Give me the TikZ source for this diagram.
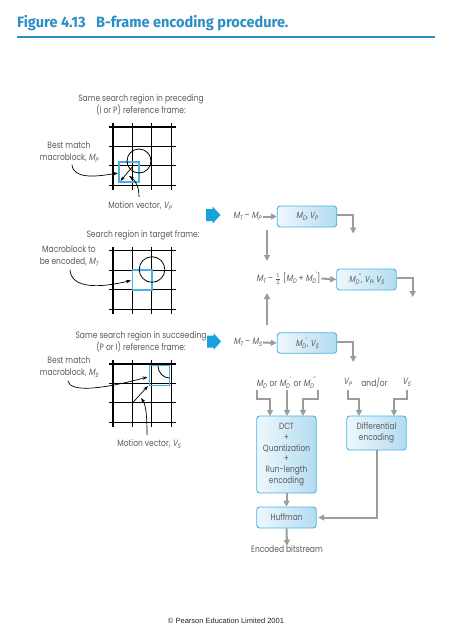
\documentclass[tikz,border=0pt]{standalone}
\usepackage{fontspec}
\setmainfont{Poppins}[FakeStretch=0.82]
\newfontfamily\itf{Poppins}[FakeStretch=0.82,FakeSlant=0.2]
\newfontfamily\titlefont{Fira Sans}[FakeStretch=0.97]
\newfontfamily\cpfont{Liberation Sans}
\usetikzlibrary{arrows.meta,shadings}
\definecolor{txtgray}{HTML}{5A5A5A}
\definecolor{titleblue}{HTML}{2A8FC4}
\definecolor{boxcyan}{HTML}{4AB2E0}
\definecolor{arrowgray}{HTML}{9C9C9C}
\definecolor{fillL}{HTML}{EEF8FD}
\definecolor{fillR}{HTML}{B3DCF2}
\definecolor{blockblue}{HTML}{1AA0DD}
\newcommand\mi[1]{{\itf #1}}
\newcommand\sub[1]{\raisebox{-0.4ex}{\fontsize{6.5}{6.5}\selectfont\itf #1}}
\newcommand\sps[1]{\raisebox{0.9ex}{\fontsize{6.5}{6.5}\selectfont #1}}
\newcommand\mygrid[1]{%
  \foreach \i in {0,1,2,3}{%
    \draw[gridline] (109,{#1+\i*19.45}) -- (175.5,{#1+\i*19.45});
    \draw[gridline] ({113+\i*19.45},{#1-4}) -- ({113+\i*19.45},{#1+3*19.45+4.5});
  }}
\tikzset{
  lbl/.style={text=txtgray, font=\fontsize{9.2}{12}\selectfont, inner sep=0pt, align=center},
  procbox/.style={draw=boxcyan, line width=0.9pt, rounded corners=3pt, left color=fillL, right color=fillR,
    text=txtgray, font=\fontsize{9}{10.8}\selectfont, inner sep=0pt, align=center, minimum width=59.5pt},
  flow/.style={draw=arrowgray, line width=2pt, -{Triangle[width=6pt,length=6pt]}},
  pointer/.style={draw=black, line width=0.7pt, -{Stealth[length=5pt,width=3.5pt]}},
  gridline/.style={draw=black, line width=1.1pt},
  mblock/.style={draw=boxcyan, line width=1.8pt},
  thinline/.style={draw=black, line width=0.8pt},
  blockarrow/.style={fill=blockblue},
}
\begin{document}
\begin{tikzpicture}[x=1pt,y=-1pt]
\useasboundingbox (0,0) rectangle (452,640);
% title
\node[anchor=west, inner sep=0pt, text=titleblue, font=\titlefont\bfseries\fontsize{15}{15}\selectfont] (title) at (17,23) {Figure 4.13\hspace{0.7em}B-frame encoding procedure.};
\coordinate (ruleL) at (17,37);
\coordinate (ruleR) at (435,37);
\draw[titleblue, line width=1.6pt] (ruleL) -- (ruleR);

% ---------- preceding frame ----------
\node[lbl] (prec) at (141,105) {Same search region in preceding\\(I or P) reference frame:};
\mygrid{127}
\draw[mblock] (119,162) rectangle (139,182);
\draw[thinline] (139,161) circle (12);
\coordinate (vpA) at (133,166);
\coordinate (vpB) at (120.5,181);
\draw[pointer] (vpA) -- (vpB);
\node[lbl] (bmP) at (69,152) {Best match\\macroblock, \mi{M}\sub{P}};
\coordinate (bmPend) at (118,173);
\draw[pointer] ([xshift=3pt,yshift=-2pt]bmP.south) .. controls (73,179) and (95,177) .. (bmPend);
\node[lbl] (mvP) at (140,206) {Motion vector, \mi{V}\sub{P}};
\coordinate (mvPend) at (129,176);
\draw[pointer] (139,197) .. controls (139,186) and (135,180) .. (mvPend);

% ---------- target frame ----------
\node[lbl] (targ) at (143,235) {Search region in target frame:};
\mygrid{250.7}
\draw[mblock] (132.5,270.2) rectangle (151.9,289.6);
\draw[thinline] (152,269.5) circle (12.8);
\node[lbl] (mbT) at (69,256) {Macroblock to\\be encoded, \mi{M}\sub{T}};
\coordinate (mbTend) at (131,280.5);
\draw[pointer] ([xshift=1pt,yshift=-3pt]mbT.south) .. controls (71,289) and (100,288) .. (mbTend);

% ---------- succeeding frame ----------
\node[lbl] (succ) at (141,341.5) {Same search region in succeeding\\(P or I) reference frame:};
\mygrid{364}
\draw[mblock] (149.5,365.5) rectangle (169.5,385.5);
\draw[thinline] (158,366) .. controls (158,372.6) and (163.4,378) .. (169.5,378);
\coordinate (vsA) at (132.5,402.9);
\coordinate (vsB) at (148,386);
\draw[pointer] (vsA) -- (vsB);
\node[lbl] (bmS) at (69,367.5) {Best match\\macroblock, \mi{M}\sub{S}};
\coordinate (bmSend) at (147.5,377);
\draw[pointer] ([xshift=-1pt,yshift=-3pt]bmS.south) .. controls (70,392) and (100,390) .. (bmSend);
\node[lbl] (mvS) at (149,444) {Motion vector, \mi{V}\sub{S}};
\coordinate (mvSend) at (141,398);
\draw[pointer] (147,435) .. controls (147,416) and (146,405) .. (mvSend);

% ---------- block arrows ----------
\fill[blockarrow] (206,209) -- (212.7,209) -- (212.7,206.5) -- (220.5,215) -- (212.7,223.5) -- (212.7,221) -- (206,221) -- cycle;
\fill[blockarrow] (207,335.5) -- (213.5,335.5) -- (213.5,333) -- (221,341.5) -- (213.5,350) -- (213.5,347.5) -- (207,347.5) -- cycle;

% ---------- right column ----------
\node[lbl, anchor=east] (mtmp) at (261.5,216.5) {\mi{M}\sub{T} – \mi{M}\sub{P}};
\node[procbox, minimum height=21pt] (b1) at (307,216.5) {\mi{M}\sub{D}, \mi{V}\sub{P}};
\draw[flow] ([xshift=1pt]mtmp.east) -- (b1.west);
\draw[flow] ([yshift=1.5pt]b1.east) -- ++(16,0) -- ++(0,18.5);

\node[lbl, anchor=east] (e2) at (320.5,278.5) {\mi{M}\sub{T} – $\frac{1}{2}$ [\mi{M}\sub{D} + \mi{M}\sub{D}\sps{'}]};
\node[procbox, minimum height=21pt] (b2) at (366.5,279.5) {\mi{M}\sub{D}\sps{''}, \mi{V}\sub{P}, \mi{V}\sub{S}};
\draw[flow] ([xshift=1pt]e2.east) -- (b2.west);
\draw[flow] ([yshift=1.5pt]b2.east) -- ++(16,0) -- ++(0,19);

\coordinate (v1a) at (267,230);
\coordinate (v1b) at (267,261);
\draw[flow] (v1a) -- (v1b);
\coordinate (v2a) at (267,325);
\coordinate (v2b) at (267,293);
\draw[flow] (v2a) -- (v2b);

\node[lbl, anchor=east] (mtms) at (262,342.5) {\mi{M}\sub{T} – \mi{M}\sub{S}};
\node[procbox, minimum height=20.5pt] (b3) at (307,343) {\mi{M}\sub{D}\sps{'}, \mi{V}\sub{S}};
\draw[flow] ([xshift=1pt]mtms.east) -- (b3.west);
\draw[flow] ([yshift=1pt]b3.east) -- ++(16,0) -- ++(0,20);

% row of inputs
\node[lbl] (mdrow) at (286,382.5) {\mi{M}\sub{D}\hspace{1pt} or \mi{M}\sub{D}\sps{'}\hspace{1pt} or \mi{M}\sub{D}\sps{''}};
\node[lbl] (vprow) at (347.5,382.5) {\mi{V}\sub{P}};
\node[lbl] (andor) at (374.5,382.5) {and/or};
\node[lbl] (vsrow) at (406.5,382.5) {\mi{V}\sub{S}};

\node[procbox, minimum height=77pt] (dct) at (286.5,454.5) {DCT\\+\\Quantization\\+\\Run-length\\encoding};
\node[procbox, minimum height=34pt] (diff) at (376.5,433) {Differential\\encoding};
\node[procbox, minimum height=21pt] (huff) at (286.5,517.5) {Huffman};
\node[lbl] (enc) at (287,549) {Encoded bitstream};

\coordinate (in1) at (257,390);
\coordinate (in2) at (287,390);
\coordinate (in3) at (318,390);
\coordinate (in4) at (347.5,390);
\coordinate (in5) at (406.5,390);
\draw[flow] (in1) -- (257,399) -- (270,399) -- (270,416);
\draw[flow] (in2) -- (287,416);
\draw[flow] (in3) -- (318,399) -- (303,399) -- (303,416);
\draw[flow] (in4) -- (347.5,399) -- (359,399) -- (359,416);
\draw[flow] (in5) -- (406.5,399) -- (394,399) -- (394,416);

\draw[flow] (dct.south) -- (huff.north);
\draw[flow] (diff.south) |- ([xshift=1.5pt]huff.east);
\draw[flow] (huff.south) -- ([yshift=-0.5pt]enc.north);

% copyright
\node[inner sep=0pt, text=black!85, font=\cpfont\fontsize{7.5}{8}\selectfont] (copy) at (226,621) {© Pearson Education Limited 2001};
\end{tikzpicture}
\end{document}
